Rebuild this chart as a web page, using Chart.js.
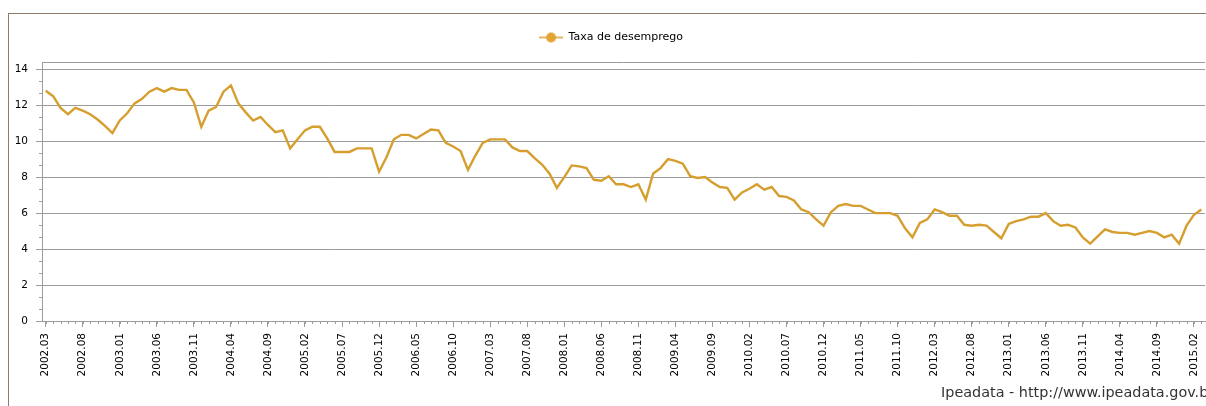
<!DOCTYPE html>
<html>
<head>
<meta charset="utf-8">
<script src="https://cdn.jsdelivr.net/npm/chart.js@4"></script>
<style>
  html, body { margin: 0; padding: 0; background: #fff; overflow: hidden; }
  #wrap { position: relative; width: 1206px; height: 406px; overflow: hidden; }
  #frame { position: absolute; left: 8px; top: 13px; width: 1210px; height: 400px; border-top: 1px solid #8c7b6b; border-left: 1px solid #8c7b6b; }
  #chart { position: absolute; left: 0; top: 0; }
  #source { position: absolute; left: 941px; top: 384px; font: 14.4px "DejaVu Sans", sans-serif; color: #333; white-space: nowrap; }
</style>
</head>
<body>
<div id="wrap">
  <div id="frame"></div>
  <canvas id="chart" width="1220" height="406"></canvas>
  <div id="source">Ipeadata - http://www.ipeadata.gov.br</div>
</div>
<script>
const seriesName = 'Taxa de desemprego'
const firstYear = 2002
const firstMonth = 3
const labelEvery = 5
const yTickValues = [0, 2, 4, 6, 8, 10, 12, 14]

// monthly rate, 2002.03 .. 2015.03
const rates = [
  12.8, 12.5, 11.85, 11.5, 11.85, 11.7, 11.5, 11.2, 10.85, 10.45,
  11.15, 11.55, 12.1, 12.35, 12.75, 12.95, 12.75, 12.95, 12.85, 12.85,
  12.15, 10.8, 11.7, 11.9, 12.75, 13.1, 12.1, 11.6, 11.15, 11.35,
  10.9, 10.5, 10.6, 9.6, 10.1, 10.6, 10.8, 10.8, 10.15, 9.4,
  9.4, 9.4, 9.6, 9.6, 9.6, 8.3, 9.1, 10.1, 10.35, 10.35,
  10.15, 10.4, 10.65, 10.6, 9.9, 9.7, 9.45, 8.4, 9.2, 9.9,
  10.1, 10.1, 10.1, 9.65, 9.45, 9.45, 9.05, 8.7, 8.2, 7.4,
  8.0, 8.65, 8.6, 8.5, 7.85, 7.8, 8.05, 7.6, 7.6, 7.45,
  7.6, 6.75, 8.2, 8.5, 9.0, 8.9, 8.75, 8.05, 7.95, 8.0,
  7.7, 7.45, 7.4, 6.75, 7.15, 7.35, 7.6, 7.3, 7.45, 6.95,
  6.9, 6.7, 6.2, 6.05, 5.65, 5.3, 6.05, 6.4, 6.5, 6.4,
  6.4, 6.2, 6.0, 6.0, 6.0, 5.85, 5.15, 4.65, 5.45, 5.65,
  6.2, 6.05, 5.85, 5.85, 5.35, 5.3, 5.35, 5.3, 4.95, 4.6,
  5.4, 5.55, 5.65, 5.8, 5.8, 6.0, 5.55, 5.3, 5.35, 5.2,
  4.65, 4.3, 4.7, 5.1, 4.95, 4.9, 4.9, 4.8, 4.9, 5.0,
  4.9, 4.65, 4.8, 4.3, 5.3, 5.9, 6.2
]

const months = rates.map((_, i) => {
  const m = firstMonth - 1 + i
  return (firstYear + Math.floor(m / 12)) + '.' + String(m % 12 + 1).padStart(2, '0')
})

const lineColor = '#d69e2e'
const axisColor = '#9c9c9c'

// legend marker: short line with a dot
const marker = document.createElement('canvas')
marker.width = 24
marker.height = 12
const mctx = marker.getContext('2d')
mctx.strokeStyle = lineColor
mctx.lineWidth = 1.5
mctx.beginPath()
mctx.moveTo(0, 6)
mctx.lineTo(24, 6)
mctx.stroke()
mctx.fillStyle = '#e2a534'
mctx.beginPath()
mctx.arc(12, 6, 5, 0, Math.PI * 2)
mctx.fill()

const extras = {
  id: 'extras',
  beforeLayout(chart) {
    const legend = chart.legend
    if (legend && !legend._gap) {
      const fit = legend.fit
      legend.fit = function () { fit.call(this); this.height += 9 }
      legend._gap = true
    }
  },
  afterDraw(chart) {
    const { ctx, chartArea: a, scales: { x, y } } = chart
    ctx.save()
    ctx.strokeStyle = axisColor
    ctx.lineWidth = 1
    ctx.beginPath()
    ctx.moveTo(a.left, a.top + 0.5)
    ctx.lineTo(a.right, a.top + 0.5)
    for (let i = 0; i < months.length; i++) {
      const px = Math.round(x.getPixelForTick(i)) + 0.5
      ctx.moveTo(px, a.bottom)
      ctx.lineTo(px, a.bottom + 3)
    }
    for (let k = 1; k < 21; k++) {
      if (k % 3 === 0) continue
      const py = Math.round(y.getPixelForValue(k * 2 / 3)) + 0.5
      ctx.moveTo(a.left - 3, py)
      ctx.lineTo(a.left, py)
    }
    ctx.stroke()
    ctx.restore()
  }
}

const tickFont = { family: 'DejaVu Sans', size: 10.5 }

new Chart(document.getElementById('chart'), {
  type: 'line',
  data: {
    labels: months,
    datasets: [{
      label: seriesName,
      data: rates,
      borderColor: lineColor,
      backgroundColor: lineColor,
      borderWidth: 2.4,
      pointRadius: 0,
      tension: 0,
      fill: false
    }]
  },
  options: {
    responsive: false,
    animation: false,
    layout: { padding: { left: 15, right: 13, top: 22, bottom: 0 } },
    plugins: {
      legend: {
        position: 'top',
        labels: {
          usePointStyle: true,
          pointStyle: marker,
          pointStyleWidth: 24,
          padding: 10,
          color: '#000',
          font: { family: 'DejaVu Sans', size: 11 }
        }
      },
      tooltip: { enabled: false }
    },
    scales: {
      x: {
        offset: true,
        afterFit: s => { s.height = 85 },
        grid: {
          drawOnChartArea: false,
          tickLength: 6,
          tickColor: c => c.index % labelEvery === 0 ? axisColor : 'rgba(0,0,0,0)'
        },
        border: { color: axisColor },
        ticks: {
          autoSkip: false,
          minRotation: 90,
          maxRotation: 90,
          padding: 6,
          color: '#000',
          font: tickFont,
          callback: (v, i) => i % labelEvery === 0 ? months[i] : ''
        }
      },
      y: {
        min: 0,
        max: 14.4,
        afterFit: s => { s.width = 27 },
        afterBuildTicks: s => { s.ticks = yTickValues.map(v => ({ value: v })) },
        grid: { color: axisColor, tickLength: 6 },
        border: { color: axisColor },
        ticks: { padding: 8, color: '#000', font: tickFont }
      }
    }
  },
  plugins: [extras]
})
</script>
</body>
</html>
